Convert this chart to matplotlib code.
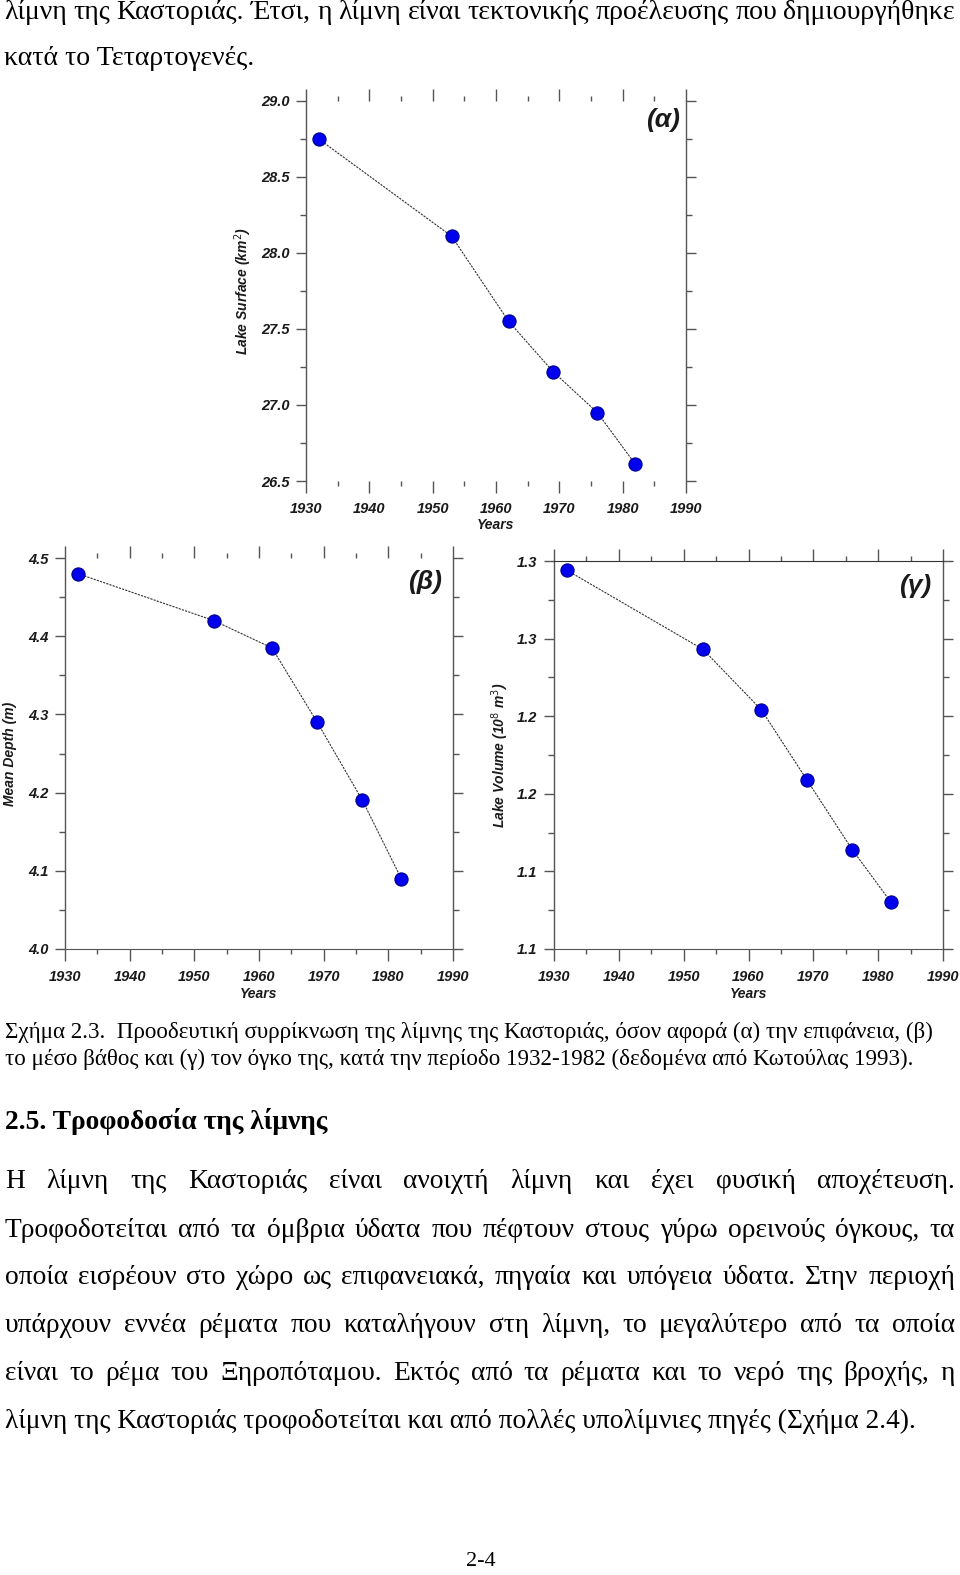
import matplotlib
matplotlib.use("Agg")
import matplotlib.pyplot as plt
from matplotlib.ticker import MultipleLocator, FormatStrFormatter

# --- data ---
years = [1932, 1953, 1962, 1969, 1976, 1982]
surface = [28.75, 28.11, 27.55, 27.22, 26.95, 26.61]
depth = [4.48, 4.42, 4.385, 4.29, 4.19, 4.09]
volume = [1.294, 1.243, 1.204, 1.159, 1.114, 1.080]

vol_ticks = [1.05, 1.10, 1.15, 1.20, 1.25, 1.30]
vol_ticklabels = ["1.1", "1.1", "1.2", "1.2", "1.3", "1.3"]

top_lines = ["λίμνη της Καστοριάς. Έτσι, η λίμνη είναι τεκτονικής προέλευσης που δημιουργήθηκε",
             "κατά το Τεταρτογενές."]
caption_lines = ["Σχήμα 2.3.  Προοδευτική συρρίκνωση της λίμνης της Καστοριάς, όσον αφορά (α) την επιφάνεια, (β)",
                 "το μέσο βάθος και (γ) τον όγκο της, κατά την περίοδο 1932-1982 (δεδομένα από Κωτούλας 1993)."]
heading = "2.5. Τροφοδοσία της λίμνης"
body_lines = ["Η λίμνη της Καστοριάς είναι ανοιχτή λίμνη και έχει φυσική αποχέτευση.",
              "Τροφοδοτείται από τα όμβρια ύδατα που πέφτουν στους γύρω ορεινούς όγκους, τα",
              "οποία εισρέουν στο χώρο ως επιφανειακά, πηγαία και υπόγεια ύδατα. Στην περιοχή",
              "υπάρχουν εννέα ρέματα που καταλήγουν στη λίμνη, το μεγαλύτερο από τα οποία",
              "είναι το ρέμα του Ξηροπόταμου. Εκτός από τα ρέματα και το νερό της βροχής, η",
              "λίμνη της Καστοριάς τροφοδοτείται και από πολλές υπολίμνιες πηγές (Σχήμα 2.4)."]
page_no = "2-4"

W, H = 960, 1575
SERIF = "Liberation Serif"
SANS = "Liberation Sans"
TICK_FS = 10.5
LABEL_FS = 10

fig = plt.figure(figsize=(W / 100, H / 100), dpi=100)
fig.patch.set_facecolor("white")
renderer = fig.canvas.get_renderer()


def px(x, y):
    return x / W, 1 - y / H


def width_of(s, size, weight="normal"):
    t = fig.text(0, 0, s, fontsize=size, family=SERIF, weight=weight)
    w = t.get_window_extent(renderer).width
    t.remove()
    return w


def fit(s, target, weight="normal"):
    return 10 * target / width_of(s, 10, weight)


def line(s, x0, y, size, x1=None, weight="normal"):
    if x1 is None:
        fig.text(*px(x0, y), s, fontsize=size, family=SERIF, weight=weight,
                 va="baseline", ha="left")
        return
    # justified line: spread the words between x0 and x1
    words = s.split(" ")
    ws = [width_of(w, size, weight) for w in words]
    gap = (x1 - x0 - sum(ws)) / (len(words) - 1)
    x = x0
    for w, wd in zip(words, ws):
        fig.text(*px(x, y), w, fontsize=size, family=SERIF, weight=weight,
                 va="baseline", ha="left")
        x += wd + gap


# --- page text ---
s_top = fit(top_lines[1], 249)
line(top_lines[0], 4, 19, s_top, x1=955)
line(top_lines[1], 4, 65, s_top)

s_cap = fit(caption_lines[0], 925)
line(caption_lines[0], 5, 1038, s_cap)
line(caption_lines[1], 5, 1065, s_cap)

line(heading, 5, 1129, fit(heading, 323, "bold"), weight="bold")

s_body = fit(body_lines[-1], 910)
ys = [1188, 1237, 1284, 1332, 1380, 1428]
for s, y in zip(body_lines[:-1], ys[:-1]):
    line(s, 5, y, s_body, x1=955)
line(body_lines[-1], 5, ys[-1], s_body)

fig.text(*px(481, 1566), page_no, fontsize=16, family=SERIF, ha="center", va="baseline")


# --- the three panels ---
def panel(left, top, right, bottom, yvals, ylim, major, minor, ylabel, tag, tagpos,
          show_top=False, show_bottom=False):
    ax = fig.add_axes([left / W, 1 - bottom / H, (right - left) / W, (bottom - top) / H])
    ax.plot(years, yvals, color="#333333", lw=0.8, ls=(0, (2, 1)), zorder=2)
    ax.plot(years, yvals, ls="none", marker="o", ms=9.5, mfc="#0000ee",
            mec="#00008a", mew=0.8, zorder=3)
    ax.set_xlim(1930, 1990)
    ax.set_ylim(*ylim)
    ax.xaxis.set_major_locator(MultipleLocator(10))
    ax.xaxis.set_minor_locator(MultipleLocator(5))
    ax.yaxis.set_major_locator(MultipleLocator(major))
    ax.yaxis.set_minor_locator(MultipleLocator(minor))
    ax.yaxis.set_major_formatter(FormatStrFormatter("%.1f"))
    for side in ["left", "right"]:
        ax.spines[side].set_color("#555555")
        ax.spines[side].set_linewidth(1.0)
    ax.spines["top"].set_visible(show_top)
    ax.spines["bottom"].set_visible(show_bottom)
    ax.spines["top"].set_color("#333333")
    ax.spines["bottom"].set_color("#555555")
    ax.tick_params(axis="x", which="both", direction="out", top=True, bottom=True,
                   colors="#555555", width=1)
    ax.tick_params(axis="x", which="major", length=8.6, pad=6.5)
    ax.tick_params(axis="x", which="minor", length=3.6)
    ax.tick_params(axis="y", which="both", direction="out", left=True, right=True,
                   colors="#555555", width=1)
    ax.tick_params(axis="y", which="major", length=7, pad=5)
    ax.tick_params(axis="y", which="minor", length=4.5)
    for lab in ax.get_xticklabels() + ax.get_yticklabels():
        lab.set_family(SANS)
        lab.set_weight("bold")
        lab.set_style("italic")
        lab.set_fontsize(TICK_FS)
        lab.set_color("#1a1a1a")
    ax.text(0.5, -0.115, "Years", transform=ax.transAxes, ha="center", va="center",
            family=SANS, weight="bold", style="italic", fontsize=LABEL_FS, color="#1a1a1a")
    ax.text(ylabel[1], 0.5, ylabel[0], transform=ax.transAxes, ha="center", va="center",
            rotation=90, family=SANS, weight="bold", style="italic", fontsize=LABEL_FS,
            color="#1a1a1a")
    ax.text(tagpos[0], tagpos[1], tag, transform=ax.transAxes, ha="center", va="center",
            family=SANS, weight="bold", style="italic", fontsize=19, color="#1a1a1a")
    return ax


panel(306, 101, 686, 481, surface, (26.5, 29.0), 0.5, 0.25,
      ("Lake Surface (km$^2$)", -0.166), "(α)", (0.94, 0.95))
panel(65, 558, 453, 949, depth, (4.0, 4.5), 0.1, 0.05,
      ("Mean Depth (m)", -0.142), "(β)", (0.928, 0.939), show_bottom=True)
ax_g = panel(554, 561, 943, 949, volume, (1.05, 1.30), 0.05, 0.025,
             ("Lake Volume (10$^8$ m$^3$)", -0.139), "(γ)", (0.928, 0.936),
             show_top=True, show_bottom=True)
ax_g.set_yticks(vol_ticks)
ax_g.set_yticklabels(vol_ticklabels, family=SANS, weight="bold", style="italic",
                     fontsize=TICK_FS, color="#1a1a1a")

fig.savefig("out.png", dpi=100, facecolor="white")
